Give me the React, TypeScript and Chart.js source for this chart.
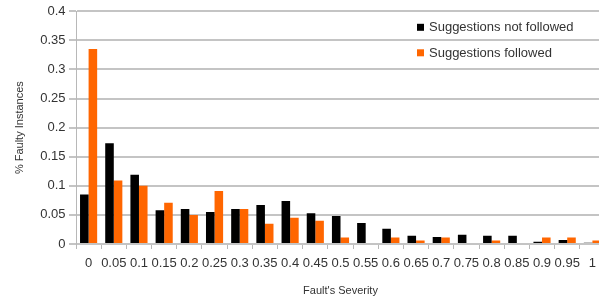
import React, { useEffect, useRef } from "react";
import { Chart, registerables } from "chart.js";

Chart.register(...registerables);

const categories = ["0", "0.05", "0.1", "0.15", "0.2", "0.25", "0.3", "0.35", "0.4", "0.45", "0.5", "0.55", "0.6", "0.65", "0.7", "0.75", "0.8", "0.85", "0.9", "0.95", "1"];
const notFollowed = [0.085, 0.173, 0.119, 0.058, 0.06, 0.055, 0.06, 0.067, 0.074, 0.053, 0.048, 0.036, 0.026, 0.014, 0.012, 0.016, 0.014, 0.014, 0.004, 0.007, 0.002];
const followed = [0.335, 0.109, 0.1, 0.071, 0.05, 0.091, 0.06, 0.035, 0.045, 0.04, 0.011, 0, 0.011, 0.006, 0.011, 0, 0.006, 0, 0.011, 0.011, 0.006];
const seriesNames = ["Suggestions not followed", "Suggestions followed"];
const seriesColors = ["#000000", "#ff6600"];
const yTicks = [0, 0.05, 0.1, 0.15, 0.2, 0.25, 0.3, 0.35, 0.4];

const FONT = "'Liberation Sans', Arial, sans-serif";
const TEXT = "#333333";

const legendPlugin = {
  id: "insideLegend",
  afterDraw(chart: any) {
    const { ctx, chartArea } = chart;
    ctx.save();
    ctx.font = `13px ${FONT}`;
    ctx.textBaseline = "middle";
    ctx.textAlign = "left";
    chart.data.datasets.forEach((ds: any, i: number) => {
      const y = chartArea.top + 16 + i * 25.5;
      const x = chartArea.left + 341;
      ctx.fillStyle = ds.backgroundColor;
      ctx.fillRect(x, y - 3.5, 7, 7);
      ctx.fillStyle = TEXT;
      ctx.fillText(ds.label, x + 12, y + 0.5);
    });
    ctx.restore();
  },
};

export default function App() {
  const ref = useRef<HTMLCanvasElement | null>(null);
  useEffect(() => {
    if (!ref.current) return;
    const chart = new Chart(ref.current, {
      type: "bar",
      data: {
        labels: categories,
        datasets: [
          { label: seriesNames[0], data: notFollowed, backgroundColor: seriesColors[0], barPercentage: 1, categoryPercentage: 0.68 },
          { label: seriesNames[1], data: followed, backgroundColor: seriesColors[1], barPercentage: 1, categoryPercentage: 0.68 },
        ],
      },
      options: {
        responsive: false,
        animation: false,
        layout: { padding: { top: 9, left: 0, right: 0, bottom: 0 } },
        plugins: { legend: { display: false }, tooltip: { enabled: false } },
        scales: {
          x: {
            offset: true,
            grid: { display: true, drawOnChartArea: false, drawTicks: true, tickLength: 5, color: "#b8b8b8", offset: true },
            border: { display: false },
            ticks: { color: TEXT, font: { family: FONT, size: 13 }, padding: 7, maxRotation: 0, autoSkip: false },
            title: { display: true, text: "Fault's Severity", color: TEXT, font: { family: FONT, size: 11 }, padding: { top: 0, bottom: 7 } },
            afterFit: (s: any) => { s.height = 61; },
          },
          y: {
            min: 0,
            max: 0.4,
            afterBuildTicks: (s: any) => { s.ticks = yTicks.map((v) => ({ value: v })); },
            grid: { color: "#c4c4c4", lineWidth: 2, tickLength: 7, drawTicks: true },
            border: { display: true, color: "#b8b8b8", width: 1 },
            ticks: { color: TEXT, font: { family: FONT, size: 13 }, padding: 3.5, callback: (v: any) => String(Number(v)) },
            title: { display: true, text: "% Faulty Instances", color: TEXT, font: { family: FONT, size: 11 }, padding: { top: 13, bottom: 0 } },
            afterFit: (s: any) => { s.width = 76; },
          },
        },
      },
      plugins: [legendPlugin],
    });
    return () => chart.destroy();
  }, []);
  return (
    <div style={{ position: "fixed", left: 0, top: 0, width: 599, height: 305, overflow: "hidden", background: "#fff" }}>
      <canvas ref={ref} width={605} height={305} style={{ display: "block" }} />
    </div>
  );
}
